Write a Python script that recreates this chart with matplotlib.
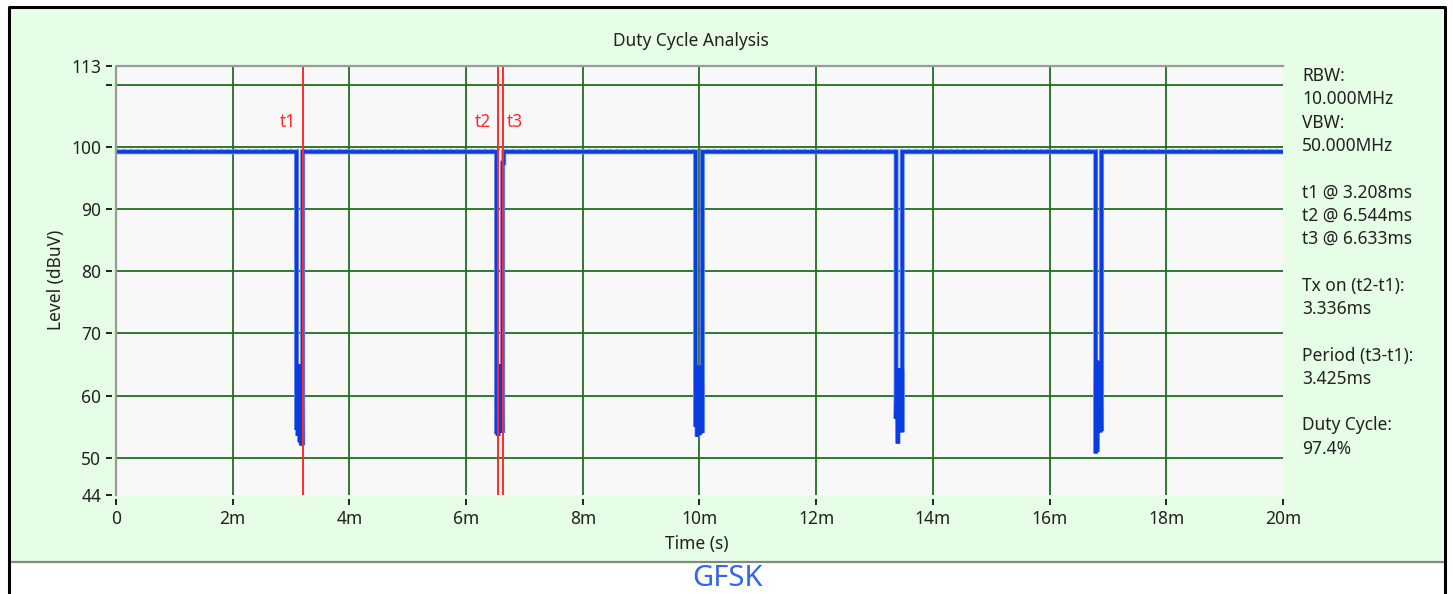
import matplotlib
matplotlib.use("Agg")
import matplotlib.pyplot as plt
from matplotlib.lines import Line2D
from matplotlib.patches import Rectangle

# ---------------- data ----------------
title = "Duty Cycle Analysis"
x_label = "Time (s)"
y_label = "Level (dBuV)"
caption = "GFSK"

x_tick_ms = [0, 2, 4, 6, 8, 10, 12, 14, 16, 18, 20]
x_tick_labels = ["0", "2m", "4m", "6m", "8m", "10m", "12m", "14m", "16m", "18m", "20m"]
y_ticks = [44, 50, 60, 70, 80, 90, 100, 110, 113]
y_tick_labels = ["44", "50", "60", "70", "80", "90", "100", "", "113"]
y_grid = [50, 60, 70, 80, 90, 100, 110]

# trace (time in ms, level in dBuV)
trace_ms = [0.0, 3.094,
            3.094, 3.108, 3.120, 3.134, 3.148, 3.162, 3.176, 3.190, 3.198,
            3.198, 6.522,
            6.522, 6.536, 6.550, 6.564, 6.578, 6.592, 6.606, 6.618, 6.625,
            6.625, 6.645, 6.645, 9.933,
            9.933, 9.948, 9.962, 9.976, 9.990, 10.004, 10.018, 10.032, 10.050,
            10.050, 13.370,
            13.370, 13.384, 13.398, 13.412, 13.426, 13.440, 13.454, 13.466, 13.475,
            13.475, 16.790,
            16.790, 16.804, 16.818, 16.832, 16.846, 16.860, 16.874, 16.884, 16.890,
            16.890, 20.0]
trace_dbuv = [99.2, 99.2,
              54.5, 65.0, 53.5, 65.0, 52.5, 64.5, 52.0, 64.0, 52.0,
              99.2, 99.2,
              53.8, 65.0, 53.5, 64.0, 54.0, 65.0, 54.0, 64.0, 54.0,
              97.4, 97.4, 99.2, 99.2,
              55.0, 64.8, 53.4, 64.5, 53.6, 64.8, 53.8, 64.0, 54.0,
              99.2, 99.2,
              56.3, 64.4, 52.3, 64.0, 54.1, 64.4, 54.5, 64.0, 54.1,
              99.2, 99.2,
              50.7, 65.7, 51.0, 65.0, 54.1, 65.5, 54.1, 64.0, 54.3,
              99.2, 99.2]

cursor_names = ["t1", "t2", "t3"]
cursor_ms = [3.208, 6.544, 6.633]
cursor_label_side = ["left", "left", "right"]

info_lines = ["RBW:", "10.000MHz", "VBW:", "50.000MHz", "",
              "t1 @ 3.208ms", "t2 @ 6.544ms", "t3 @ 6.633ms", "",
              "Tx on (t2-t1):", "3.336ms", "",
              "Period (t3-t1):", "3.425ms", "",
              "Duty Cycle:", "97.4%"]

# ---------------- figure ----------------
W, H = 1453, 594
fig = plt.figure(figsize=(W / 100, H / 100), dpi=100)
fig.patch.set_facecolor("white")
FONT = "Noto Sans"
TXT = "#222222"
FS = 12.5

def fx(px):
    return px / W

def fy(py):
    return 1 - py / H

# green panel
fig.patches.append(Rectangle((fx(10), fy(562)), fx(1443) - fx(10), fy(8) - fy(562),
                             transform=fig.transFigure, facecolor="#e6fde6",
                             edgecolor="none", zorder=-10))
fig.lines.append(Line2D([fx(10), fx(1443)], [fy(562), fy(562)], transform=fig.transFigure,
                        color="#808a80", lw=1.6, zorder=-5))
# black frame
fig.lines.append(Line2D([fx(9), fx(9), fx(1445), fx(1445)], [0, fy(7), fy(7), 0],
                        transform=fig.transFigure, color="black", lw=2.2, zorder=-5))

ax = fig.add_axes([fx(116), fy(495), fx(1283) - fx(116), fy(66) - fy(495)])
ax.set_zorder(2)
ax.set_facecolor("#f8f8f8")
ax.set_xlim(0, 0.020)
ax.set_ylim(44, 113)

for sp in ["right", "bottom", "left", "top"]:
    ax.spines[sp].set_visible(False)
# border lines (gray) on top and left
ax.plot([0, 0, 1], [0, 1, 1], transform=ax.transAxes, color="#9a9a9a", lw=1.6,
        clip_on=False, zorder=5)
ax.spines["left"].set_position(("outward", 3))
ax.spines["bottom"].set_position(("outward", 3))

ax.set_xticks([t / 1000 for t in x_tick_ms])
ax.set_xticklabels(x_tick_labels)
ax.set_yticks(y_ticks)
ax.set_yticklabels(y_tick_labels)
ax.tick_params(axis="both", direction="out", length=4.5, width=1.4, color="#222222",
               labelsize=FS, labelcolor=TXT)
ax.tick_params(axis="y", pad=3)
ax.tick_params(axis="x", pad=3)
for lab in ax.get_xticklabels() + ax.get_yticklabels():
    lab.set_fontfamily(FONT)

# grid
for t in x_tick_ms[1:-1]:
    ax.axvline(t / 1000, color="#1f6f1f", lw=1.3, zorder=1)
for g in y_grid:
    ax.axhline(g, color="#1f6f1f", lw=1.3, zorder=1)

# trace
ts = [t / 1000 for t in trace_ms]
ax.plot(ts, trace_dbuv, color="#6d8ff0", lw=3.6, zorder=3, solid_joinstyle="miter")
ax.plot(ts, trace_dbuv, color="#0a3de0", lw=2.4, zorder=3, solid_joinstyle="miter")
# small noise marks above the baseline
ax.plot([0, 0.020], [99.6, 99.6], color="#5577ee", lw=1.0, dashes=(1, 4), zorder=3)

# cursors
for name, c, side in zip(cursor_names, cursor_ms, cursor_label_side):
    ax.axvline(c / 1000, color="#ff2a2a", lw=1.4, zorder=4)
    if side == "left":
        ax.annotate(name, (c / 1000, 104.0), xytext=(-7, 0), textcoords="offset pixels",
                    ha="right", va="center", color="#ff2a2a", fontsize=FS, family=FONT)
    else:
        ax.annotate(name, (c / 1000, 104.0), xytext=(4, 0), textcoords="offset pixels",
                    ha="left", va="center", color="#ff2a2a", fontsize=FS, family=FONT)

# labels
fig.text(fx(691), fy(41), title, ha="center", va="center", fontsize=FS, color=TXT, family=FONT)
fig.text(fx(697), fy(544), x_label, ha="center", va="center", fontsize=FS, color=TXT, family=FONT)
fig.text(fx(56), fy(280), y_label, ha="center", va="center", rotation=90, fontsize=FS,
         color=TXT, family=FONT)
fig.text(fx(727), fy(579), caption, ha="center", va="center", fontsize=21, color="#3366ee", family=FONT)

# info text block
y0 = 76
step = 23.3
for i, line in enumerate(info_lines):
    if line:
        fig.text(fx(1302), fy(y0 + i * step), line, ha="left", va="center", fontsize=FS,
                 color=TXT, family=FONT)

fig.savefig("out.png", dpi=100)
